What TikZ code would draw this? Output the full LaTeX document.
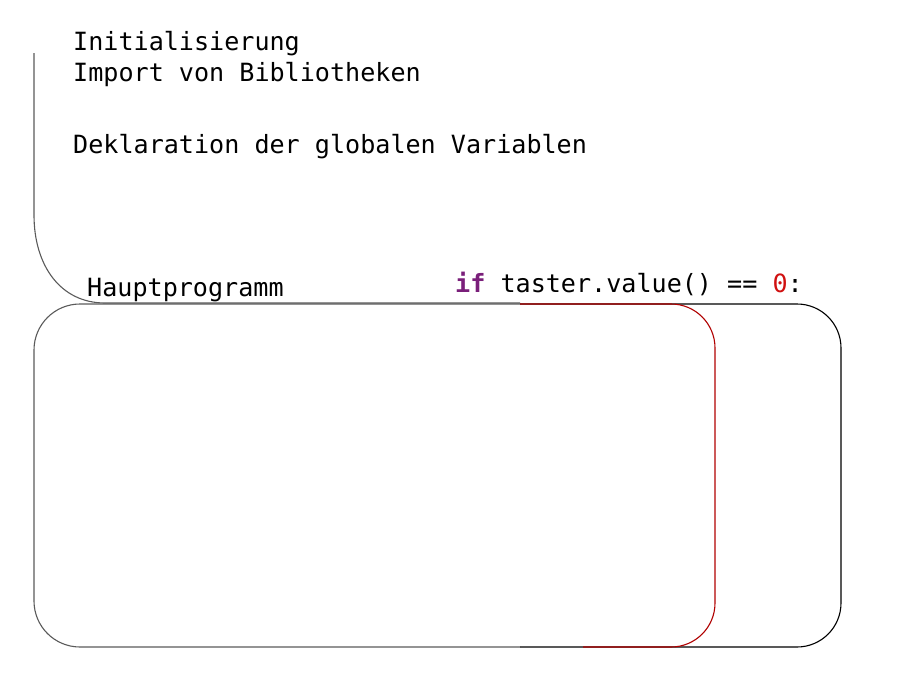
\documentclass[tikz,border=0pt]{standalone}
\usepackage{fontspec}
\setmonofont{DejaVu Sans Mono}
\definecolor{grayline}{HTML}{5A5A5A}
\definecolor{redline}{HTML}{B00000}
\definecolor{kwpurple}{HTML}{7A1F7A}
\definecolor{numred}{HTML}{D01010}
\begin{document}
\begin{tikzpicture}[x=1pt,y=-1pt,
  code/.style={anchor=base west,inner sep=0pt,font=\ttfamily\fontsize{25.1}{30}\selectfont},
  gline/.style={draw=grayline,line width=1.1pt},
  rline/.style={draw=redline,line width=1.1pt},
  bline/.style={draw=black,line width=1.1pt}]
\useasboundingbox (0,0) rectangle (902,688);
% texts
\node[code] (init) at (73,50) {Initialisierung};
\node[code] (imp) at (73,81) {Import von Bibliotheken};
\node[code] (dekl) at (73,153) {Deklaration der globalen Variablen};
\node[code] (haupt) at (87,296) {Hauptprogramm};
\node[code] (cond) at (455,292) {\textcolor{kwpurple}{\bfseries if} taster.value() == \textcolor{numred}{0}:};
% init block outline
\draw[gline] (34,53) -- (34,215) .. controls (34,265) and (60,303) .. (105,303) -- (520,303);
% main block (gray, left part)
\draw[gline,rounded corners=46pt] (520,304) -- (34,304) -- (34,647) -- (520,647);
% if block outer (black)
\draw[bline,rounded corners=44pt] (520,304) -- (841,304) -- (841,647) -- (520,647);
% red block
\draw[rline,rounded corners=44pt] (520,304) -- (715,304) -- (715,647) -- (583,647);
\end{tikzpicture}
\end{document}
